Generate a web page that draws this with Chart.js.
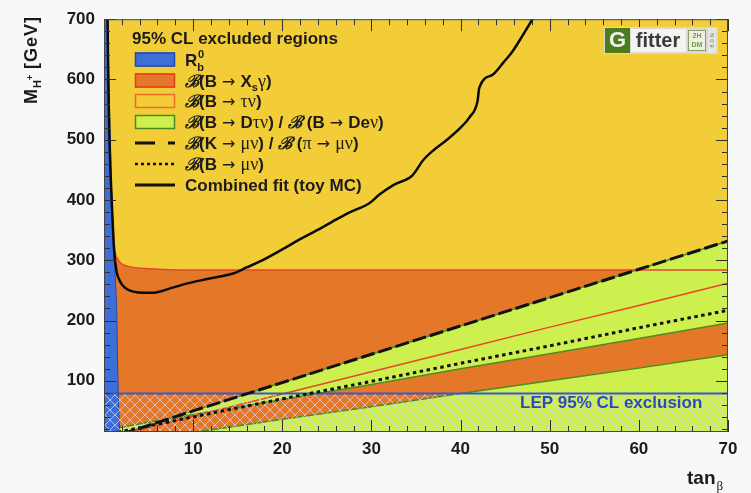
<!DOCTYPE html>
<html>
<head>
<meta charset="utf-8">
<script src="https://cdn.jsdelivr.net/npm/chart.js@4.4.1/dist/chart.umd.min.js"></script>
<style>
  html, body { margin: 0; padding: 0; background: #f7f8fa; }
  #wrap { width: 751px; height: 493px; }
</style>
</head>
<body>
<div id="wrap"><canvas id="c" width="751" height="493"></canvas></div>
<script>
// ---- axis ticks ----
const xTickValues = [10, 20, 30, 40, 50, 60, 70];
const yTickValues = [100, 200, 300, 400, 500, 600, 700];

// ---- R_b^0 excluded region: everything below/left of this boundary ----
const rbTanBeta = [0, 0.40, 0.55, 0.70, 0.85, 1.00, 1.15, 1.30, 1.45, 1.50, 1.60, 1.75, 1.80];
const rbMass    = [820, 700, 600, 500, 420, 350, 300, 260, 200, 150, 80, 15, 0];

// ---- B -> Xs gamma excluded region: below this boundary ----
const bsgTanBeta = [0.8, 1.0, 1.2, 1.5, 2.0, 3.0, 5.0, 10, 20, 70];
const bsgMass    = [420, 360, 318, 303, 294, 289, 286, 284, 284, 284];

// ---- straight constraints sampled along tan(beta) ----
const lineTanBeta    = [0, 10, 20, 30, 40, 50, 60, 70];
const kmuMass        = [2, 50, 97, 144, 191, 238, 285, 332];   // B(K->mu nu)/B(pi->mu nu)
const taunuMass      = [4, 41, 78, 115, 152, 189, 225, 262];   // B(B->tau nu) allowed band
const munuMass       = [10, 40, 70, 99, 129, 158, 188, 217];   // B(B->mu nu)
const dtauBandTop    = [2, 50, 97, 144, 191, 238, 285, 332];   // B(B->D tau nu) upper band, top edge
const dtauBandBottom = [18, 44, 69, 94, 120, 145, 170, 196];   // B(B->D tau nu) upper band, bottom edge
const dtauLowerTop   = [-7, 14, 36, 57, 79, 100, 121, 143];    // B(B->D tau nu) lower band, top edge

// ---- LEP direct search limit ----
const lepTanBeta = [0, 70];
const lepMass    = [79, 79];

// ---- combined fit (toy MC) 95% CL contour ----
const fitTanBeta = [0.40, 0.48, 0.58, 0.72, 0.86, 1.04, 1.15, 1.40, 1.80, 2.30, 3.3, 4.5, 5.5, 6.5, 7.8,
                    9.5, 11, 13, 14.5, 16, 17.5, 20, 22, 23.8, 25.5, 27.5, 29.8, 30.9, 32.5, 34.6,
                    35.8, 37, 38.4, 40, 41, 41.9, 42.1, 43.6, 44.8, 45.8, 47, 48.1];
const fitMass    = [700, 600, 520, 450, 400, 341, 313, 282, 265, 255, 248, 246, 246, 249, 255,
                    262, 267, 273, 278, 288, 298, 318, 335, 349, 363, 379, 395, 409, 425, 441,
                    466, 483, 499, 520, 537, 564, 586, 608, 628, 646, 674, 701];

// full-range band for the B -> tau nu exclusion
const taunuExclTanBeta = [0, 70];
const taunuExclMass    = [700, 700];

const zip = (xs, ys) => xs.map((v, i) => ({ x: v, y: ys[i] }));

const C = {
  yellow: '#f3cd37',
  orange: '#e57828',
  green:  '#cdf04e',
  greenEdge: '#4c8c22',
  blue:   '#3e6fd8',
  blueEdge: '#2446a8',
  red:    '#e8452c',
  lep:    '#3a57c8',
  text:   '#1b1b1b'
};

function makeHatch() {
  const s = 10;
  const p = document.createElement('canvas');
  p.width = s; p.height = s;
  const g = p.getContext('2d');
  g.strokeStyle = 'rgba(210,210,228,0.8)';
  g.lineWidth = 1;
  g.beginPath();
  g.moveTo(-1, -1); g.lineTo(s + 1, s + 1);
  g.moveTo(s + 1, -1); g.lineTo(-1, s + 1);
  g.stroke();
  return g.createPattern(p, 'repeat');
}

const SANS = '"Liberation Sans", Arial, Helvetica, sans-serif';
const SERIF = '"Liberation Serif", "DejaVu Serif", serif';
const fT = 'bold 17px ' + SANS;
const fG = '18px ' + SERIF;
const fA = '16px "DejaVu Sans", sans-serif';
const fB = 'italic bold 17px "DejaVu Serif", serif';
const fSub = 'bold 11px ' + SANS;

function drawRuns(ctx, x, y, runs) {
  for (const r of runs) {
    ctx.font = r.f || fT;
    ctx.fillText(r.t, x, y + (r.dy || 0));
    x += ctx.measureText(r.t).width + (r.adv || 0);
  }
  return x;
}

const AR = { t: ' → ', f: fA };
const legendRows = [
  { kind: 'box', fill: C.blue, edge: C.blueEdge,
    runs: [{ t: 'R' }, { t: 'b', f: fSub, dy: 5, adv: -6 }, { t: '0', f: fSub, dy: -8 }] },
  { kind: 'box', fill: C.orange, edge: '#e03a20',
    runs: [{ t: 'ℬ', f: fB }, { t: '(B' }, AR, { t: 'X' }, { t: 's', f: fSub, dy: 4 }, { t: 'γ', f: fG }, { t: ')' }] },
  { kind: 'box', fill: C.yellow, edge: '#f06a2c',
    runs: [{ t: 'ℬ', f: fB }, { t: '(B' }, AR, { t: 'τν', f: fG }, { t: ')' }] },
  { kind: 'box', fill: C.green, edge: C.greenEdge,
    runs: [{ t: 'ℬ', f: fB }, { t: '(B' }, AR, { t: 'D' }, { t: 'τν', f: fG }, { t: ') / ' }, { t: 'ℬ', f: fB },
           { t: ' (B' }, AR, { t: 'De' }, { t: 'ν', f: fG }, { t: ')' }] },
  { kind: 'dash',
    runs: [{ t: 'ℬ', f: fB }, { t: '(K' }, AR, { t: 'μν', f: fG }, { t: ') / ' }, { t: 'ℬ', f: fB },
           { t: ' (' }, { t: 'π', f: fG }, AR, { t: 'μν', f: fG }, { t: ')' }] },
  { kind: 'dot',
    runs: [{ t: 'ℬ', f: fB }, { t: '(B' }, AR, { t: 'μν', f: fG }, { t: ')' }] },
  { kind: 'solid', runs: [{ t: 'Combined fit (toy MC)' }] }
];

const overlay = {
  id: 'overlay',
  afterDatasetsDraw(chart) {
    const { ctx, chartArea: a, scales: { x, y } } = chart;
    ctx.save();

    // inward tick marks on all four sides
    ctx.strokeStyle = '#2e2e2e';
    ctx.lineWidth = 1;
    ctx.beginPath();
    for (let v = 0; v <= 70; v += 2) {
      const px = Math.round(x.getPixelForValue(v)) + 0.5;
      const len = v % 10 === 0 ? 12 : 6;
      ctx.moveTo(px, a.bottom); ctx.lineTo(px, a.bottom - len);
      ctx.moveTo(px, a.top); ctx.lineTo(px, a.top + len);
    }
    for (let v = 20; v <= 700; v += 20) {
      const py = Math.round(y.getPixelForValue(v)) + 0.5;
      const len = v % 100 === 0 ? 12 : 6;
      ctx.moveTo(a.left, py); ctx.lineTo(a.left + len, py);
      ctx.moveTo(a.right, py); ctx.lineTo(a.right - len, py);
    }
    ctx.stroke();
    ctx.strokeStyle = '#444';
    ctx.strokeRect(a.left + 0.5, a.top + 0.5, a.right - a.left - 1, a.bottom - a.top - 1);

    // LEP label
    ctx.fillStyle = '#2c4bb8';
    ctx.font = 'bold 17px ' + SANS;
    ctx.textBaseline = 'middle';
    ctx.fillText('LEP 95% CL exclusion', 520, 403);

    // legend
    ctx.textBaseline = 'alphabetic';
    ctx.fillStyle = C.text;
    ctx.font = 'bold 17px ' + SANS;
    ctx.fillText('95% CL excluded regions', 132, 44);
    const rowY = [59.5, 80.5, 101, 122, 143, 164, 185];
    legendRows.forEach((r, i) => {
      const cy = rowY[i];
      if (r.kind === 'box') {
        ctx.fillStyle = r.fill;
        ctx.fillRect(135, cy - 7, 40, 14);
        ctx.strokeStyle = r.edge;
        ctx.lineWidth = 1.5;
        ctx.strokeRect(135.5, cy - 6.5, 39, 13);
      } else {
        ctx.strokeStyle = '#111';
        ctx.lineWidth = r.kind === 'dot' ? 2.5 : 3;
        ctx.setLineDash(r.kind === 'dash' ? [20, 13] : r.kind === 'dot' ? [3, 3] : []);
        ctx.beginPath();
        ctx.moveTo(135, cy); ctx.lineTo(175, cy);
        ctx.stroke();
        ctx.setLineDash([]);
      }
      ctx.fillStyle = C.text;
      drawRuns(ctx, 185, cy + 6, r.runs);
    });

    // Gfitter badge
    ctx.fillStyle = '#d9d9d2';
    ctx.fillRect(604, 27, 114, 27);
    ctx.fillStyle = '#4b7d1f';
    ctx.fillRect(605, 28, 25, 25);
    ctx.fillStyle = '#f2f2f2';
    ctx.font = 'bold 22px ' + SANS;
    ctx.textAlign = 'center';
    ctx.textBaseline = 'middle';
    ctx.fillText('G', 617.5, 41);
    ctx.fillStyle = '#f3f3f1';
    ctx.fillRect(631, 29, 55, 23);
    ctx.fillStyle = '#3b3b3b';
    ctx.font = 'bold 20px ' + SANS;
    ctx.fillText('fitter', 658, 41);
    ctx.fillStyle = '#eef0e6';
    ctx.fillRect(688, 30, 18, 21);
    ctx.strokeStyle = '#8aa060';
    ctx.lineWidth = 1;
    ctx.strokeRect(688.5, 30.5, 17, 20);
    ctx.fillStyle = '#6f9a38';
    ctx.font = 'bold 7px ' + SANS;
    ctx.fillText('2H', 697, 36);
    ctx.fillText('DM', 697, 45);
    ctx.fillStyle = '#e6e6e2';
    ctx.fillRect(708, 28, 8, 25);
    ctx.fillStyle = '#777';
    ctx.save();
    ctx.translate(712, 40.5);
    ctx.rotate(Math.PI / 2);
    ctx.font = '6px ' + SANS;
    ctx.fillText('N 0 9', 0, 0);
    ctx.restore();
    ctx.textAlign = 'left';

    ctx.restore();
  },
  afterDraw(chart) {
    const { ctx } = chart;
    ctx.save();
    ctx.fillStyle = C.text;
    ctx.textBaseline = 'alphabetic';
    if ('letterSpacing' in ctx) ctx.letterSpacing = '1px';
    // y-axis title, rotated
    ctx.translate(37, 104);
    ctx.rotate(-Math.PI / 2);
    let px = drawRuns(ctx, 0, 0, [{ t: 'M', f: 'bold 18px ' + SANS }]);
    ctx.font = 'bold 11px ' + SANS;
    ctx.fillText('H', px, 4);
    const hw = ctx.measureText('H').width;
    ctx.font = 'bold 9px ' + SANS;
    ctx.fillText('+', px + hw - 1, -4);
    px += hw + 10;
    drawRuns(ctx, px, 0, [{ t: '[GeV]', f: 'bold 18px ' + SANS }]);
    ctx.restore();

    ctx.save();
    ctx.fillStyle = C.text;
    ctx.textBaseline = 'alphabetic';
    ctx.font = 'bold 19px ' + SANS;
    ctx.fillText('tan', 687, 484);
    const w = ctx.measureText('tan').width;
    ctx.font = '13px ' + SERIF;
    ctx.fillText('β', 687 + w + 1, 490);
    ctx.restore();
  }
};

const hatch = makeHatch();

const datasets = [];
function add(ds) { datasets.push(ds); return datasets.length - 1; }

const base = { pointRadius: 0, pointHoverRadius: 0, tension: 0, borderWidth: 0 };

// larger "order" is painted first (underneath)
add({ ...base, label: 'B→τν excluded', data: zip(taunuExclTanBeta, taunuExclMass),
      fill: 'start', backgroundColor: C.yellow, borderColor: C.yellow, order: 20 });
add({ ...base, label: 'B→Xsγ', data: zip(bsgTanBeta, bsgMass), fill: 'start',
      backgroundColor: C.orange, borderColor: C.orange, borderWidth: 0,
      cubicInterpolationMode: 'monotone', order: 19 });
const dBottom = add({ ...base, label: 'B→Dτν band bottom', data: zip(lineTanBeta, dtauBandBottom),
      fill: false, borderColor: C.greenEdge, borderWidth: 1.5, order: 17 });
add({ ...base, label: 'B→Dτν band', data: zip(lineTanBeta, dtauBandTop),
      fill: { target: dBottom }, backgroundColor: C.green, borderColor: C.greenEdge,
      borderWidth: 1.5, order: 18 });
add({ ...base, label: 'B→Dτν lower', data: zip(lineTanBeta, dtauLowerTop), fill: 'start',
      backgroundColor: C.green, borderColor: C.greenEdge, borderWidth: 1.5, order: 16 });
add({ ...base, label: 'B→Xsγ edge', data: zip(bsgTanBeta, bsgMass), fill: false,
      borderColor: C.red, borderWidth: 1.5, cubicInterpolationMode: 'monotone', order: 15.5 });
add({ ...base, label: 'B→τν band', data: zip(lineTanBeta, taunuMass), fill: false,
      borderColor: C.red, borderWidth: 1.5, order: 15 });
add({ ...base, label: 'Rb', data: zip(rbTanBeta, rbMass), fill: 'start',
      backgroundColor: C.blue, borderColor: C.blueEdge, borderWidth: 1,
      cubicInterpolationMode: 'monotone', order: 14 });
add({ ...base, label: 'LEP', data: zip(lepTanBeta, lepMass), fill: 'start',
      backgroundColor: hatch, borderColor: C.lep, borderWidth: 2, order: 13 });
add({ ...base, label: 'B→μν', data: zip(lineTanBeta, munuMass), fill: false,
      borderColor: '#111', borderWidth: 3, borderDash: [3.5, 3.5], order: 12 });
add({ ...base, label: 'K→μν', data: zip(lineTanBeta, kmuMass), fill: false,
      borderColor: '#111', borderWidth: 3, borderDash: [14, 4], order: 11 });
add({ ...base, label: 'Combined fit', data: zip(fitTanBeta, fitMass), fill: false,
      borderColor: '#0a0a0a', borderWidth: 2.5, cubicInterpolationMode: 'monotone', order: 10 });

const tickFont = { family: SANS, weight: 'bold', size: 17 };

new Chart(document.getElementById('c'), {
  type: 'line',
  data: { datasets },
  options: {
    responsive: false,
    devicePixelRatio: 1,
    animation: false,
    events: [],
    layout: { padding: { left: 0, right: 23, top: 14, bottom: 0 } },
    plugins: { legend: { display: false }, tooltip: { enabled: false }, title: { display: false } },
    scales: {
      x: {
        type: 'linear', min: 0, max: 70,
        grid: { display: false, drawTicks: false },
        border: { display: false },
        afterBuildTicks: s => { s.ticks = xTickValues.map(v => ({ value: v })); },
        afterFit: s => { s.height = 61; },
        ticks: { font: tickFont, color: C.text, padding: 7, maxRotation: 0 }
      },
      y: {
        type: 'linear', min: 15, max: 700,
        grid: { display: false, drawTicks: false },
        border: { display: false },
        afterBuildTicks: s => { s.ticks = yTickValues.map(v => ({ value: v })); },
        afterFit: s => { s.width = 104; },
        ticks: { font: tickFont, color: C.text, padding: 9 }
      }
    }
  },
  plugins: [overlay]
});
</script>
</body>
</html>
